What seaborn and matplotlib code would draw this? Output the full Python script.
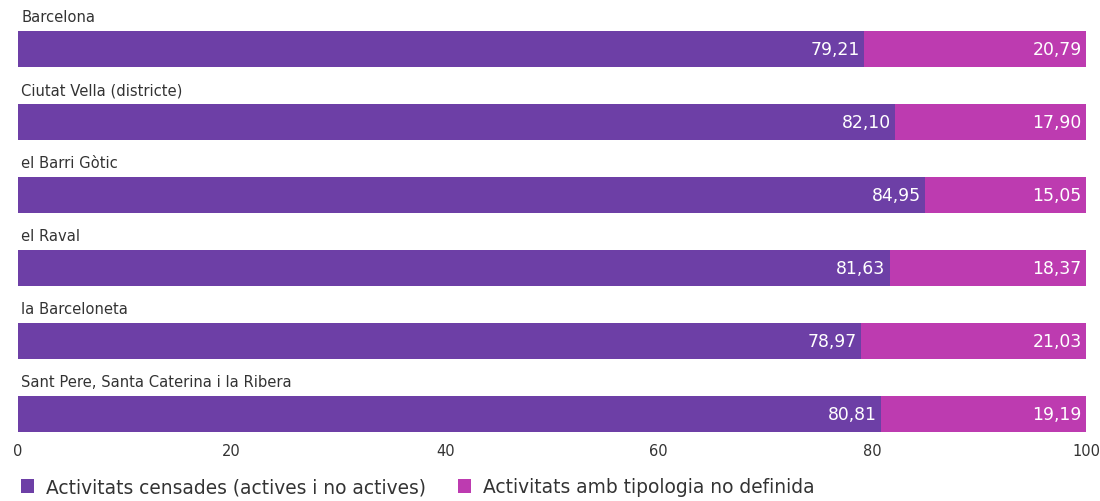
import matplotlib
matplotlib.use("Agg")
import matplotlib.pyplot as plt
from matplotlib.patches import Patch
import seaborn as sns
import pandas as pd

categories = [
    "Barcelona",
    "Ciutat Vella (districte)",
    "el Barri Gòtic",
    "el Raval",
    "la Barceloneta",
    "Sant Pere, Santa Caterina i la Ribera",
]
censades = [79.21, 82.10, 84.95, 81.63, 78.97, 80.81]
no_definida = [20.79, 17.90, 15.05, 18.37, 21.03, 19.19]
series_names = ["Activitats censades (actives i no actives)",
                "Activitats amb tipologia no definida"]
xticks = [0, 20, 40, 60, 80, 100]

purple = "#6d3fa6"
magenta = "#bd3bb0"
text_col = "#333333"

sns.set_theme(style="white")
plt.rcParams["font.family"] = ["DejaVu Sans"]

df = pd.DataFrame({"cat": categories, "censades": censades, "no_definida": no_definida})
df["total"] = df["censades"] + df["no_definida"]

fig = plt.figure(figsize=(11, 5.02), dpi=100)
ax = fig.add_axes([18 / 1100, 1 - 440 / 502, (1086 - 18) / 1100, 440 / 502])

sns.barplot(data=df, x="total", y="cat", color=magenta, width=0.5,
            saturation=1, linewidth=0, ax=ax, orient="h")
sns.barplot(data=df, x="censades", y="cat", color=purple, width=0.5,
            saturation=1, linewidth=0, ax=ax, orient="h")

ax.set_xlim(0, 100)
ax.set_ylim(5.342, -0.685)
ax.set_xlabel("")
ax.set_ylabel("")
ax.set_yticks([])
ax.set_xticks(xticks)
ax.set_xticklabels([str(t) for t in xticks], fontsize=10.5, color=text_col)
ax.tick_params(axis="x", length=0, pad=3)
for s in ax.spines.values():
    s.set_visible(False)

for i, row in df.iterrows():
    ax.text(0.3, i - 0.44, row["cat"], ha="left", va="center",
            fontsize=10.6, color=text_col)
    ax.text(row["censades"] - 0.4, i, f"{row['censades']:.2f}".replace(".", ","),
            ha="right", va="center", fontsize=12.4, color="white")
    ax.text(row["total"] - 0.4, i, f"{row['no_definida']:.2f}".replace(".", ","),
            ha="right", va="center", fontsize=12.4, color="white")

handles = [Patch(facecolor=purple, edgecolor="none"),
           Patch(facecolor=magenta, edgecolor="none")]
fig.legend(handles, series_names, loc="center left",
           bbox_to_anchor=(0.012, 1 - 488 / 502), ncol=2, frameon=False,
           fontsize=13.4, labelcolor=text_col, handlelength=0.7, handleheight=0.7,
           handletextpad=0.65, columnspacing=1.75, borderaxespad=0)

fig.savefig("out.png", dpi=100)
